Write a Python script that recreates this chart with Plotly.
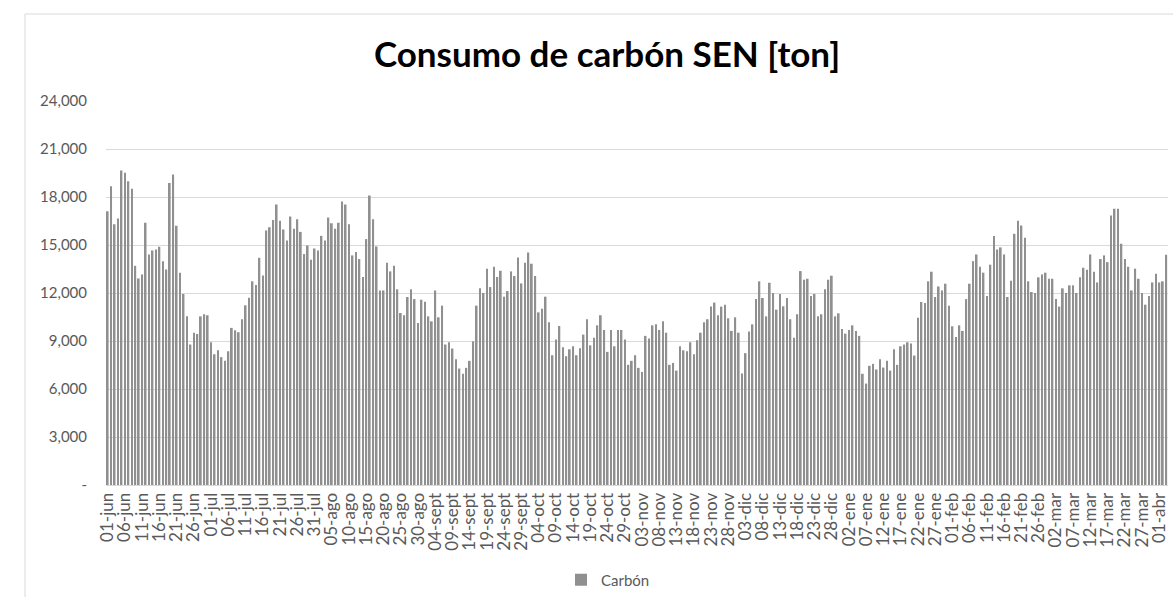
import pandas as pd
import plotly.graph_objects as go

# Spanish month abbreviations used in the category labels
month_abbr = {1: "ene", 2: "feb", 3: "mar", 4: "abr", 5: "may", 6: "jun",
              7: "jul", 8: "ago", 9: "sept", 10: "oct", 11: "nov", 12: "dic"}

start_date = "2019-06-01"
n_days = 308

# Daily coal consumption [ton] (01-jun .. 03-abr)
carbon_jun_jul = [17110, 18670, 16300, 16660, 19650, 19520, 18980, 18510, 13700, 12910,
                  13160, 16390, 14410, 14660, 14720, 14890, 13990, 13470, 18880, 19400,
                  16200, 13270, 11940, 10540, 8780, 9520, 9440, 10540, 10670, 10610,
                  8920, 8170, 8420, 7990, 7760, 8360, 9820, 9670, 9550]
carbon_jul_ago = [10360, 11230, 11710, 12730, 12500, 14200, 13100, 15910, 16110, 16570,
                  17530, 16510, 15970, 15280, 16780, 16010, 16610, 15820, 14430, 14970,
                  14080, 14780, 14660, 15570, 15280, 16720, 16360, 16010, 16390, 17720,
                  17530, 16300, 14350, 14560, 14120, 13000, 15370, 18090, 16610]
carbon_ago_sep = [14910, 12160, 12160, 13890, 13350, 13700, 12230, 10750, 10610, 11750,
                  12230, 11620, 10130, 11580, 11460, 10540, 10230, 12160, 10480, 11210,
                  8780, 8920, 8530, 7860, 7280, 6950, 7320, 7760, 8980, 11210,
                  12290, 12000, 13520, 12370, 13640, 13000, 13390, 11770, 12120]
carbon_sep_nov = [13350, 13060, 14220, 12600, 13890, 14530, 13830, 13060, 10790, 11020,
                  11770, 10170, 8110, 9090, 9940, 8610, 8050, 8480, 8670, 8110,
                  8550, 9400, 10360, 8730, 9210, 9980, 10610, 9690, 8320, 9690,
                  8670, 9690, 9690, 9090, 7510, 7760, 8110, 7320, 7070]
carbon_nov_dic = [9320, 9150, 9980, 10040, 9690, 10230, 9520, 7510, 7630, 7150,
                  8670, 8420, 8360, 8920, 8170, 9050, 9520, 10170, 10360, 11150,
                  11400, 10610, 11150, 11270, 10420, 9630, 10480, 9520, 6970, 8240,
                  9590, 10040, 11620, 12730, 11690, 10540, 12640, 12000, 10960]
carbon_dic_ene = [11940, 11170, 11690, 10360, 9210, 10670, 13370, 12830, 12890, 11810,
                  11940, 10540, 10670, 12230, 12830, 13080, 10540, 10730, 9750, 9460,
                  9690, 9980, 9630, 9320, 6950, 6340, 7450, 7570, 7220, 7860,
                  7340, 7760, 7150, 8480, 7510, 8670, 8780, 8920, 8840, 8090]
carbon_ene_mar = [10460, 11440, 11370, 12730, 13330, 11750, 12410, 12160, 12580, 11210,
                  9920, 9250, 9980, 9630, 11620, 12580, 13990, 14410, 13640, 13270,
                  11810, 13770, 15570, 14720, 14850, 14410, 11750, 12770, 15700, 16510,
                  16220, 15450, 12730, 12060, 12000, 12980, 13160, 13270, 12890]
carbon_mar_abr = [12890, 11620, 11150, 12290, 12000, 12480, 12480, 12000, 12980, 13580,
                  13450, 14410, 13330, 12660, 14120, 14350, 13930, 16840, 17260, 17260,
                  15080, 14120, 13640, 12160, 13520, 12890, 12000, 11270, 11810, 12660,
                  13200, 12660, 12730, 14390]

carbon = (carbon_jun_jul + carbon_jul_ago + carbon_ago_sep + carbon_sep_nov +
          carbon_nov_dic + carbon_dic_ene + carbon_ene_mar + carbon_mar_abr)

dates = pd.date_range(start_date, periods=n_days, freq="D")
categories = [f"{d.day:02d}-{month_abbr[d.month]}" for d in dates]
x_tick_labels = categories[::5]

y_tick_vals = [0, 3000, 6000, 9000, 12000, 15000, 18000, 21000, 24000]
y_tick_text = ["-", "3,000", "6,000", "9,000", "12,000", "15,000", "18,000", "21,000", "24,000"]

W, H = 1173, 597
L, R, T, B = 106, 5, 101, 112
pw, ph = W - L - R, H - T - B

def px_x(px):
    return (px - L) / pw

def px_y(py):
    return (H - B - py) / ph

font_family = "Lato, 'Open Sans', sans-serif"
label_color = "#595959"

fig = go.Figure()
fig.add_trace(go.Bar(
    x=categories, y=carbon, name="Carbón",
    marker=dict(color="#909090", line=dict(width=0)),
))

fig.update_layout(
    width=W, height=H,
    margin=dict(l=L, r=R, t=T, b=B, autoexpand=False),
    paper_bgcolor="white", plot_bgcolor="white",
    font=dict(family=font_family, color=label_color),
    bargap=0.5,
    title=dict(text="<b>Consumo de carbón SEN [ton]</b>",
               x=607 / W, xref="container", xanchor="center",
               y=1 - 55 / H, yref="container", yanchor="middle",
               font=dict(family=font_family, size=35, color="#000000")),
    showlegend=True,
    legend=dict(orientation="h", x=px_x(608), xanchor="center",
                y=px_y(580), yanchor="middle",
                font=dict(size=15, color=label_color),
                itemwidth=30, bgcolor="rgba(0,0,0,0)"),
    shapes=[dict(type="rect", xref="paper", yref="paper",
                 x0=px_x(25), x1=px_x(1190), y0=px_y(620), y1=px_y(14),
                 line=dict(color="#d9d9d9", width=1), layer="below")],
)

fig.update_xaxes(
    type="category", tickmode="array", tickvals=x_tick_labels, ticktext=x_tick_labels,
    tickangle=-90, tickfont=dict(size=17, color=label_color),
    showgrid=False, showline=True, linecolor="#d9d9d9", linewidth=1,
    ticks="", range=[-0.5, n_days - 0.5],
)
fig.update_yaxes(
    range=[0, 24000], tickmode="array", tickvals=y_tick_vals, ticktext=y_tick_text,
    tickfont=dict(size=15, color=label_color),
    showgrid=True, gridcolor="#d9d9d9", gridwidth=1,
    zeroline=False, showline=False, ticks="", ticklabelstandoff=18,
)

fig.write_html("out.html", config={"displayModeBar": False},
               post_script="document.body.style.margin='0';document.body.style.padding='0';")
